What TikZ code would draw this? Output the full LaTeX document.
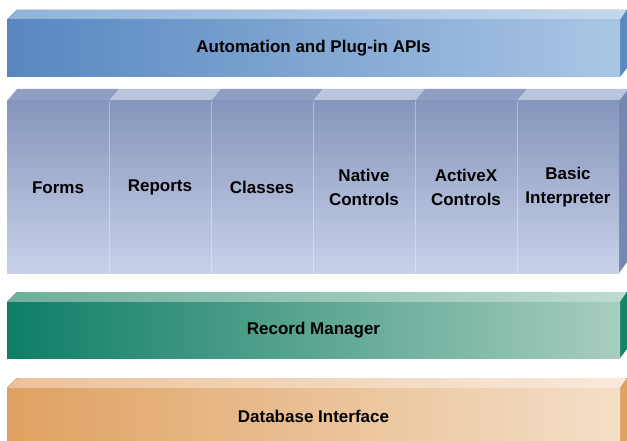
\documentclass[tikz,border=0pt]{standalone}
\usepackage{fontspec}
\setmainfont{Liberation Sans}
\begin{document}
\begin{tikzpicture}[x=1pt,y=-1pt,
  lbl/.style={font=\bfseries\fontsize{17}{24}\selectfont, text=black, align=center},
  front/.style={inner sep=0pt, outer sep=0pt, anchor=north west},
  colfront/.style={front, minimum width=102pt, minimum height=172pt, top color=colTop, bottom color=colBot},
]
\definecolor{apiL}{HTML}{5887C0}
\definecolor{apiR}{HTML}{A9C6E4}
\definecolor{apiTopL}{HTML}{8FB3DA}
\definecolor{apiTopR}{HTML}{C3D8EE}
\definecolor{apiSide}{HTML}{5C89BF}
\definecolor{colTop}{HTML}{8596BC}
\definecolor{colBot}{HTML}{C9D1E9}
\definecolor{colLidA}{HTML}{8E9FC3}
\definecolor{colLidB}{HTML}{B9C4DD}
\definecolor{colSide}{HTML}{7687B0}
\definecolor{recL}{HTML}{0E7E65}
\definecolor{recR}{HTML}{A8CDBF}
\definecolor{recTopL}{HTML}{6FAE9C}
\definecolor{recTopR}{HTML}{BEDBD0}
\definecolor{recSide}{HTML}{17846A}
\definecolor{dbL}{HTML}{DFA161}
\definecolor{dbR}{HTML}{F4DFC8}
\definecolor{dbTopL}{HTML}{EBC29A}
\definecolor{dbTopR}{HTML}{F8EADC}
\definecolor{dbSide}{HTML}{E0A262}
\useasboundingbox (0,0) rectangle (627,441);
\fill[white] (0,0) rectangle (627,441);

% ---- API bar ----
\fill[left color=apiTopL, right color=apiTopR] (7,20) -- (17,10) -- (627,10) -- (620,20) -- cycle;
\fill[apiSide] (620,20) -- (627,10) -- (627,68) -- (620,77) -- cycle;
\node[front, minimum width=613pt, minimum height=57pt, left color=apiL, right color=apiR] (api) at (7,20) {};
\node[lbl] (apit) at (api.center) {Automation and Plug-in APIs};

% ---- columns ----
\foreach \i/\c in {0/colLidA,1/colLidB,2/colLidA,3/colLidB,4/colLidA,5/colLidB}{
  \fill[\c] (7+102*\i,101) -- (17+102*\i,89) -- (119+102*\i,89) -- (109+102*\i,101) -- cycle;
}
\fill[colSide] (619,101) -- (627,91) -- (627,262) -- (619,273) -- cycle;
\node[colfront] (forms) at (7,101) {};
\node[colfront] (reports) at (109,101) {};
\node[colfront] (classes) at (211,101) {};
\node[colfront] (native) at (313,101) {};
\node[colfront] (activex) at (415,101) {};
\node[colfront] (basic) at (517,101) {};
\foreach \n in {reports,classes,native,activex,basic}{
  \draw[white, opacity=0.35, line width=1pt] (\n.north west) -- (\n.south west);
}
\node[lbl] at ([yshift=-0.5pt]forms.center) {Forms};
\node[lbl] at ([yshift=-0.5pt]reports.center) {Reports};
\node[lbl] at ([yshift=-0.5pt]classes.center) {Classes};
\node[lbl] at ([yshift=-0.5pt]native.center) {Native\\Controls};
\node[lbl] at ([yshift=-0.5pt]activex.center) {ActiveX\\Controls};
\node[lbl] at ([yshift=-0.5pt]basic.center) {Basic\\Interpreter};

% ---- Record Manager ----
\fill[left color=recTopL, right color=recTopR] (7,302) -- (17,292) -- (627,292) -- (620,302) -- cycle;
\fill[recSide] (620,302) -- (627,292) -- (627,349) -- (620,358) -- cycle;
\node[front, minimum width=613pt, minimum height=56pt, left color=recL, right color=recR] (rec) at (7,302) {};
\node[lbl] at (rec.center) {Record Manager};

% ---- Database Interface ----
\fill[left color=dbTopL, right color=dbTopR] (7,388) -- (17,378) -- (627,378) -- (620,388) -- cycle;
\fill[dbSide] (620,388) -- (627,378) -- (627,441) -- (620,441) -- cycle;
\node[front, minimum width=613pt, minimum height=53pt, left color=dbL, right color=dbR] (db) at (7,388) {};
\node[lbl] at ([yshift=-2pt]db.center) {Database Interface};
\end{tikzpicture}
\end{document}
